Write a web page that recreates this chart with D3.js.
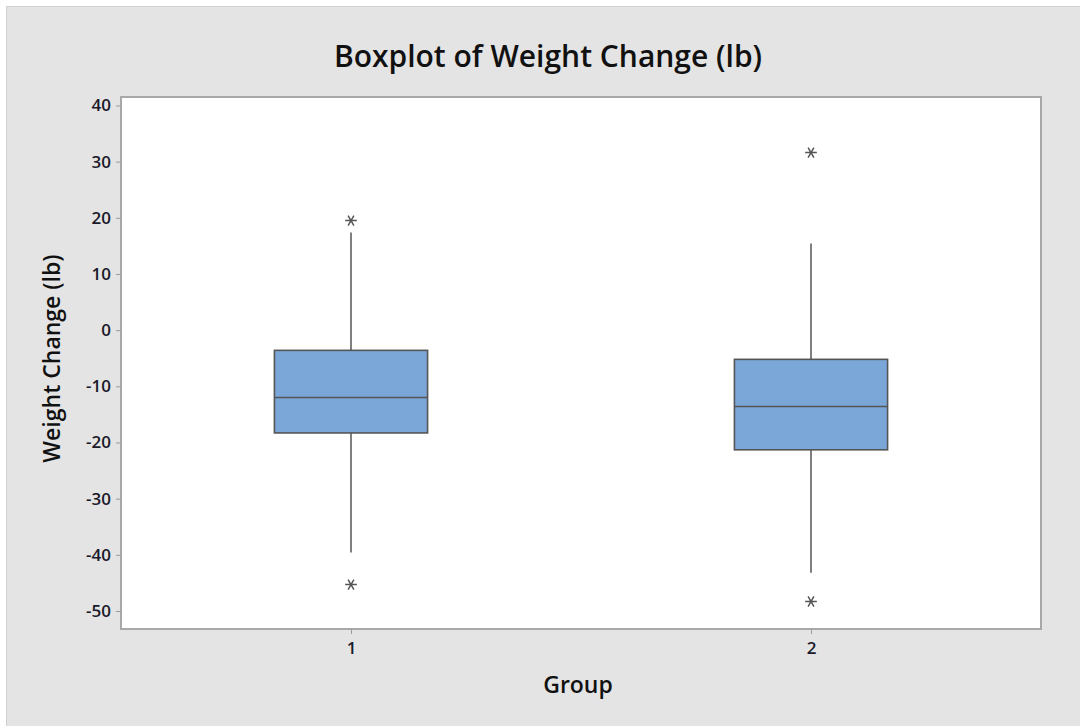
<!DOCTYPE html>
<html>
<head>
<meta charset="utf-8">
<script src="https://cdn.jsdelivr.net/npm/d3@7/dist/d3.min.js"></script>
<style>
  html, body { margin: 0; padding: 0; background: #ffffff; }
  svg { display: block; }
</style>
</head>
<body>
<svg id="chart" width="1080" height="726"></svg>
<script>
// ---- data ----
const groups = ["1", "2"];
const q1 = [-18.3, -21.3];
const median = [-12.0, -13.6];
const q3 = [-3.6, -5.2];
const whiskerLow = [-39.6, -43.2];
const whiskerHigh = [17.4, 15.4];
const outliers = [[19.5, -45.3], [31.6, -48.3]];
const yTicks = [40, 30, 20, 10, 0, -10, -20, -30, -40, -50];

const W = 1080, H = 726;
const plot = { left: 121, right: 1041, top: 97, bottom: 629 };
const svg = d3.select("#chart");

// outer frame
svg.append("rect").attr("x", 0).attr("y", 0).attr("width", W).attr("height", H).attr("fill", "#ffffff");
svg.append("rect").attr("x", 6.5).attr("y", 6.5).attr("width", W - 6).attr("height", H - 6)
  .attr("fill", "#e4e4e4").attr("stroke", "#d0d0d0").attr("stroke-width", 1);

const y = d3.scaleLinear().domain([-53.2, 41.5]).range([plot.bottom, plot.top]);
const x = d3.scalePoint().domain(groups).range([plot.left, plot.right]).padding(0.5);
const boxW = x.step() * 0.333;

// plot area
svg.append("rect").attr("x", plot.left).attr("y", plot.top)
  .attr("width", plot.right - plot.left).attr("height", plot.bottom - plot.top)
  .attr("fill", "#ffffff").attr("stroke", "#a8a8a8").attr("stroke-width", 2);

// axes
const yAxis = svg.append("g").attr("transform", `translate(${plot.left},0)`)
  .call(d3.axisLeft(y).tickValues(yTicks).tickSize(5).tickPadding(5).tickFormat(d => String(d)));
yAxis.select(".domain").remove();
yAxis.selectAll(".tick line").attr("stroke", "#9a9a9a");
yAxis.selectAll(".tick text").attr("fill", "#1a1a2a")
  .style("font-family", "'Open Sans', sans-serif").style("font-size", "17px").style("font-weight", "600");

const xAxis = svg.append("g").attr("transform", `translate(0,${plot.bottom})`)
  .call(d3.axisBottom(x).tickSize(5).tickPadding(8));
xAxis.select(".domain").remove();
xAxis.selectAll(".tick line").attr("stroke", "#9a9a9a");
xAxis.selectAll(".tick text").attr("fill", "#1a1a2a")
  .style("font-family", "'Open Sans', sans-serif").style("font-size", "17px").style("font-weight", "600");

// boxes
const stroke = "#555555";
const g = svg.append("g");
groups.forEach((grp, i) => {
  const cx = x(grp);
  g.append("line").attr("x1", cx).attr("x2", cx).attr("y1", y(q3[i])).attr("y2", y(whiskerHigh[i]))
    .attr("stroke", stroke).attr("stroke-width", 1.5);
  g.append("line").attr("x1", cx).attr("x2", cx).attr("y1", y(q1[i])).attr("y2", y(whiskerLow[i]))
    .attr("stroke", stroke).attr("stroke-width", 1.5);
  g.append("rect").attr("x", cx - boxW / 2).attr("y", y(q3[i]))
    .attr("width", boxW).attr("height", y(q1[i]) - y(q3[i]))
    .attr("fill", "#7ba6d8").attr("stroke", stroke).attr("stroke-width", 1.6);
  g.append("line").attr("x1", cx - boxW / 2).attr("x2", cx + boxW / 2)
    .attr("y1", y(median[i])).attr("y2", y(median[i]))
    .attr("stroke", stroke).attr("stroke-width", 1.6);
  outliers[i].forEach(v => {
    g.append("path")
      .attr("d", d3.symbol().type(d3.symbolAsterisk).size(95)())
      .attr("transform", `translate(${cx},${y(v)}) rotate(90)`)
      .attr("fill", "none").attr("stroke", stroke).attr("stroke-width", 1.5);
  });
});

// titles
svg.append("text").attr("x", 548).attr("y", 67).attr("text-anchor", "middle")
  .style("font-family", "'Open Sans', sans-serif").style("font-size", "30px").style("font-weight", "600")
  .attr("fill", "#111").text("Boxplot of Weight Change (lb)");
svg.append("text").attr("x", 578).attr("y", 693).attr("text-anchor", "middle")
  .style("font-family", "'Open Sans', sans-serif").style("font-size", "23px").style("font-weight", "600")
  .attr("fill", "#111").text("Group");
svg.append("text").attr("transform", `translate(60,${(247 + 470) / 2}) rotate(-90)`).attr("text-anchor", "middle")
  .style("font-family", "'Open Sans', sans-serif").style("font-size", "23px").style("font-weight", "600")
  .attr("fill", "#111").text("Weight Change (lb)");
</script>
</body>
</html>
